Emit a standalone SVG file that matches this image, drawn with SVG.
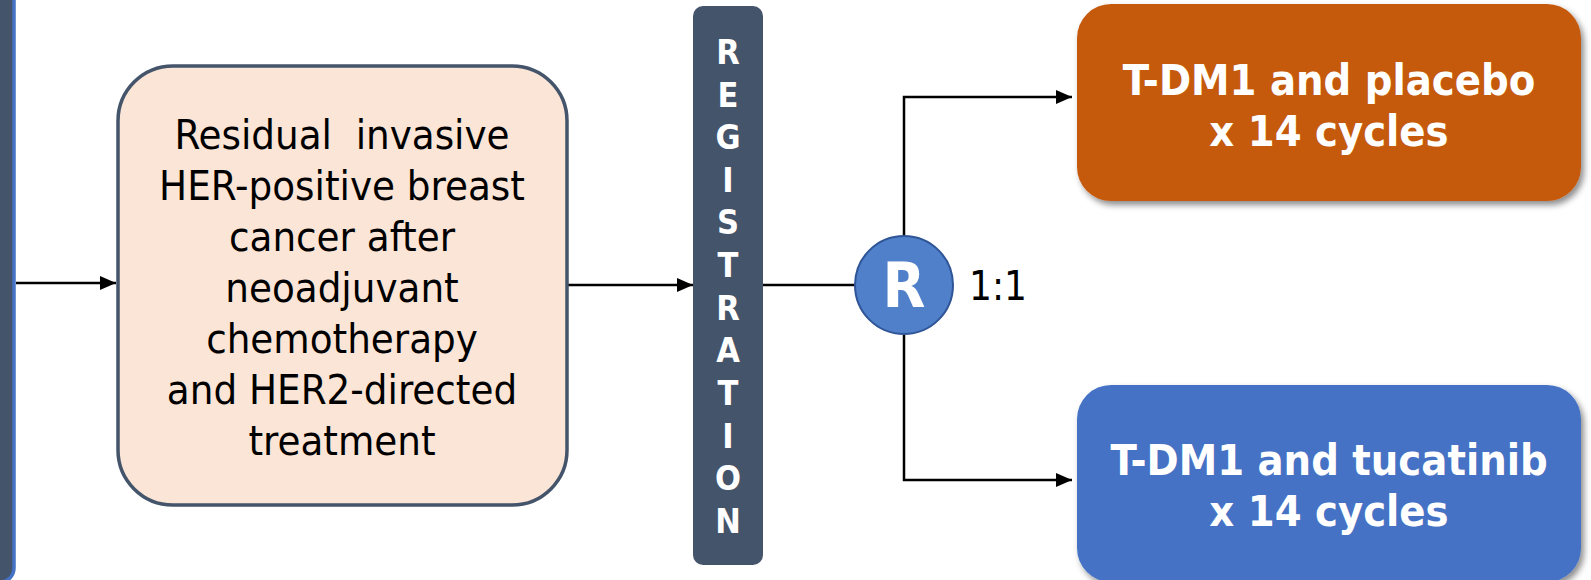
<svg xmlns="http://www.w3.org/2000/svg" width="1591" height="580" viewBox="0 0 1591 580">
<style>
.cond{font-family:"DejaVu Sans Condensed","DejaVu Sans","Liberation Sans",sans-serif;font-stretch:condensed}
.main{font-size:41.5px;fill:#000;text-anchor:middle}
.reg{font-size:34px;font-weight:bold;fill:#fff;text-anchor:middle}
.arm{font-size:43px;font-weight:bold;fill:#fff;text-anchor:middle}
.conn{stroke:#000;stroke-width:2.5;fill:none}
</style>
<defs>
<marker id="ah" viewBox="0 0 16 14" refX="16" refY="7" markerWidth="16" markerHeight="14" markerUnits="userSpaceOnUse" orient="auto">
<path d="M0,0 L16,7 L0,14 Z" fill="#000"/>
</marker>
<filter id="sh" x="-5%" y="-10%" width="112%" height="125%">
<feDropShadow dx="3" dy="4" stdDeviation="3" flood-color="#000" flood-opacity="0.45"/>
</filter>
</defs>
<rect width="1591" height="580" fill="#fff"/>
<g id="left-bar">
<rect x="-20" y="-20" width="34" height="602" rx="14" fill="#44546A" stroke="#4472C4" stroke-width="3.5"/>
</g>
<g id="connectors">
<line class="conn" x1="16" y1="283" x2="116" y2="283" marker-end="url(#ah)"/>
<line class="conn" x1="568" y1="285" x2="693" y2="285" marker-end="url(#ah)"/>
<line class="conn" x1="763" y1="285" x2="855" y2="285"/>
<polyline class="conn" points="904,235 904,97 1072,97" marker-end="url(#ah)"/>
<polyline class="conn" points="904,335 904,480 1072,480" marker-end="url(#ah)"/>
</g>
<g id="population">
<rect x="118" y="66" width="449" height="439" rx="55" fill="#FBE5D6" stroke="#44546A" stroke-width="3.5"/>
<text class="cond main" style="white-space:pre"><tspan x="342" y="149">Residual  invasive</tspan><tspan x="342" y="200">HER-positive breast</tspan><tspan x="342" y="251">cancer after</tspan><tspan x="342" y="302">neoadjuvant</tspan><tspan x="342" y="353">chemotherapy</tspan><tspan x="342" y="404">and HER2-directed</tspan><tspan x="342" y="455">treatment</tspan></text>
</g>
<g id="registration">
<rect x="693" y="6" width="70" height="559" rx="10" fill="#44546A"/>
<text class="cond reg"><tspan x="728" y="64">R</tspan><tspan x="728" y="107">E</tspan><tspan x="728" y="149">G</tspan><tspan x="728" y="192">I</tspan><tspan x="728" y="234">S</tspan><tspan x="728" y="277">T</tspan><tspan x="728" y="320">R</tspan><tspan x="728" y="362">A</tspan><tspan x="728" y="405">T</tspan><tspan x="728" y="448">I</tspan><tspan x="728" y="490">O</tspan><tspan x="728" y="533">N</tspan></text>
</g>
<g id="randomization">
<circle cx="904" cy="285" r="49" fill="#5080CA" stroke="#2F5597" stroke-width="2"/>
<text class="cond" x="904" y="307" font-size="62" font-weight="bold" fill="#fff" text-anchor="middle">R</text>
<text class="cond" x="969" y="300" font-size="40" fill="#000">1:1</text>
</g>
<g id="arm-placebo">
<rect x="1077" y="4" width="504" height="197" rx="34" fill="#C55A11" filter="url(#sh)"/>
<text class="cond arm"><tspan x="1329" y="95">T-DM1 and placebo</tspan><tspan x="1329" y="146">x 14 cycles</tspan></text>
</g>
<g id="arm-tucatinib">
<rect x="1077" y="385" width="504" height="197" rx="34" fill="#4472C4" filter="url(#sh)"/>
<text class="cond arm"><tspan x="1329" y="475">T-DM1 and tucatinib</tspan><tspan x="1329" y="526">x 14 cycles</tspan></text>
</g>
</svg>
